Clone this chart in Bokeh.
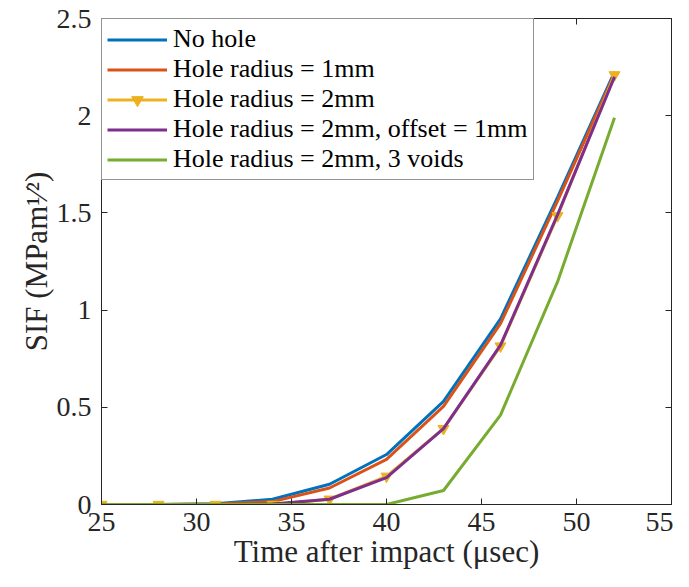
from bokeh.plotting import figure
from bokeh.models import (Range1d, FixedTicker, LinearAxis, Legend, LegendItem,
                          CustomJSTickFormatter)
from bokeh.embed import file_html
from bokeh.resources import INLINE

# ---- data ----
time_us = [25, 28, 31, 34, 37, 40, 43, 46, 49, 52]
no_hole = [0, 0, 0.004, 0.027, 0.104, 0.257, 0.53, 0.955, 1.58, 2.225]
hole_r1 = [0, 0, 0.002, 0.015, 0.085, 0.232, 0.505, 0.93, 1.56, 2.215]
hole_r2 = [0, 0, 0, 0, 0.027, 0.145, 0.39, 0.815, 1.485, 2.21]
hole_r2_offset = [0, 0, 0, 0.002, 0.027, 0.138, 0.39, 0.82, 1.49, 2.20]
hole_r2_voids = [0, 0, 0, 0, 0, 0, 0.072, 0.46, 1.145, 1.99]

series_names = ["No hole", "Hole radius = 1mm", "Hole radius = 2mm",
                "Hole radius = 2mm, offset = 1mm", "Hole radius = 2mm, 3 voids"]
series_colors = ["#0072BD", "#D95319", "#EDB120", "#7E2F8E", "#77AC30"]

x_ticks = [25, 30, 35, 40, 45, 50, 55]
y_ticks = [0, 0.5, 1, 1.5, 2, 2.5]
y_tick_labels = ["0", "0.5", "1", "1.5", "2", "2.5"]

x_label = "Time after impact (\u03bcsec)"
y_label = "SIF (MPam\u00b9\u2044\u00b2)"

FONT = "Liberation Serif"
AX = "#262626"

p = figure(width=673, height=571, output_backend="svg", toolbar_location=None,
           x_range=Range1d(25, 55), y_range=Range1d(0, 2.5),
           min_border_left=101, min_border_right=2, min_border_top=18, min_border_bottom=64,
           x_axis_location=None, y_axis_location=None)
p.xgrid.visible = False
p.ygrid.visible = False
p.outline_line_color = AX
p.outline_line_width = 1
p.background_fill_color = "white"
p.border_fill_color = "white"

blank = CustomJSTickFormatter(code="return ''")

def style_axis(ax, show_labels):
    ax.axis_line_color = AX
    ax.axis_line_width = 1
    ax.major_tick_line_color = AX
    ax.major_tick_in = 6
    ax.major_tick_out = 0
    ax.minor_tick_line_color = None
    ax.major_label_text_font = FONT
    ax.major_label_text_color = "#262626"
    ax.axis_label_text_font = FONT
    ax.axis_label_text_font_style = "normal"
    ax.axis_label_text_color = "#262626"
    if show_labels:
        ax.major_label_text_font_size = "28px"
        ax.major_label_standoff = 6
    else:
        ax.formatter = blank
        ax.major_label_text_font_size = "1px"
        ax.major_label_standoff = 0

xb = LinearAxis(ticker=FixedTicker(ticks=x_ticks), axis_label=x_label)
style_axis(xb, True)
xb.major_label_standoff = 8
xb.axis_label_text_font_size = "31px"
xb.axis_label_standoff = 0
p.add_layout(xb, "below")
xt = LinearAxis(ticker=FixedTicker(ticks=x_ticks))
style_axis(xt, False)
p.add_layout(xt, "above")
yl = LinearAxis(ticker=FixedTicker(ticks=y_ticks), axis_label=y_label)
yl.major_label_overrides = {t: s for t, s in zip(y_ticks, y_tick_labels)}
style_axis(yl, True)
yl.major_label_standoff = 10
yl.axis_label_text_font_size = "31px"
yl.axis_label_standoff = 0
p.add_layout(yl, "left")
yr = LinearAxis(ticker=FixedTicker(ticks=y_ticks))
style_axis(yr, False)
p.add_layout(yr, "right")

LW = 3
r_blue = p.line(time_us, no_hole, color=series_colors[0], line_width=LW)
r_orange = p.line(time_us, hole_r1, color=series_colors[1], line_width=LW)
r_yel_l = p.line(time_us, hole_r2, color=series_colors[2], line_width=LW)
r_yel_m = p.scatter(time_us, hole_r2, marker="inverted_triangle", size=11,
                    fill_color=series_colors[2], line_color=series_colors[2])
r_purple = p.line(time_us, hole_r2_offset, color=series_colors[3], line_width=LW)
r_green = p.line(time_us, hole_r2_voids, color=series_colors[4], line_width=LW)

items = [LegendItem(label=series_names[0], renderers=[r_blue]),
         LegendItem(label=series_names[1], renderers=[r_orange]),
         LegendItem(label=series_names[2], renderers=[r_yel_l, r_yel_m]),
         LegendItem(label=series_names[3], renderers=[r_purple]),
         LegendItem(label=series_names[4], renderers=[r_green])]
leg = Legend(items=items, location="top_left", margin=0, padding=5, spacing=0,
             glyph_width=60, glyph_height=29, label_height=29, label_standoff=6,
             label_text_font=FONT, label_text_font_size="26px", label_text_color="black",
             border_line_color="#262626", border_line_width=1,
             background_fill_color="white", background_fill_alpha=1)
p.add_layout(leg)

open("out.html", "w").write(file_html(p, INLINE))
